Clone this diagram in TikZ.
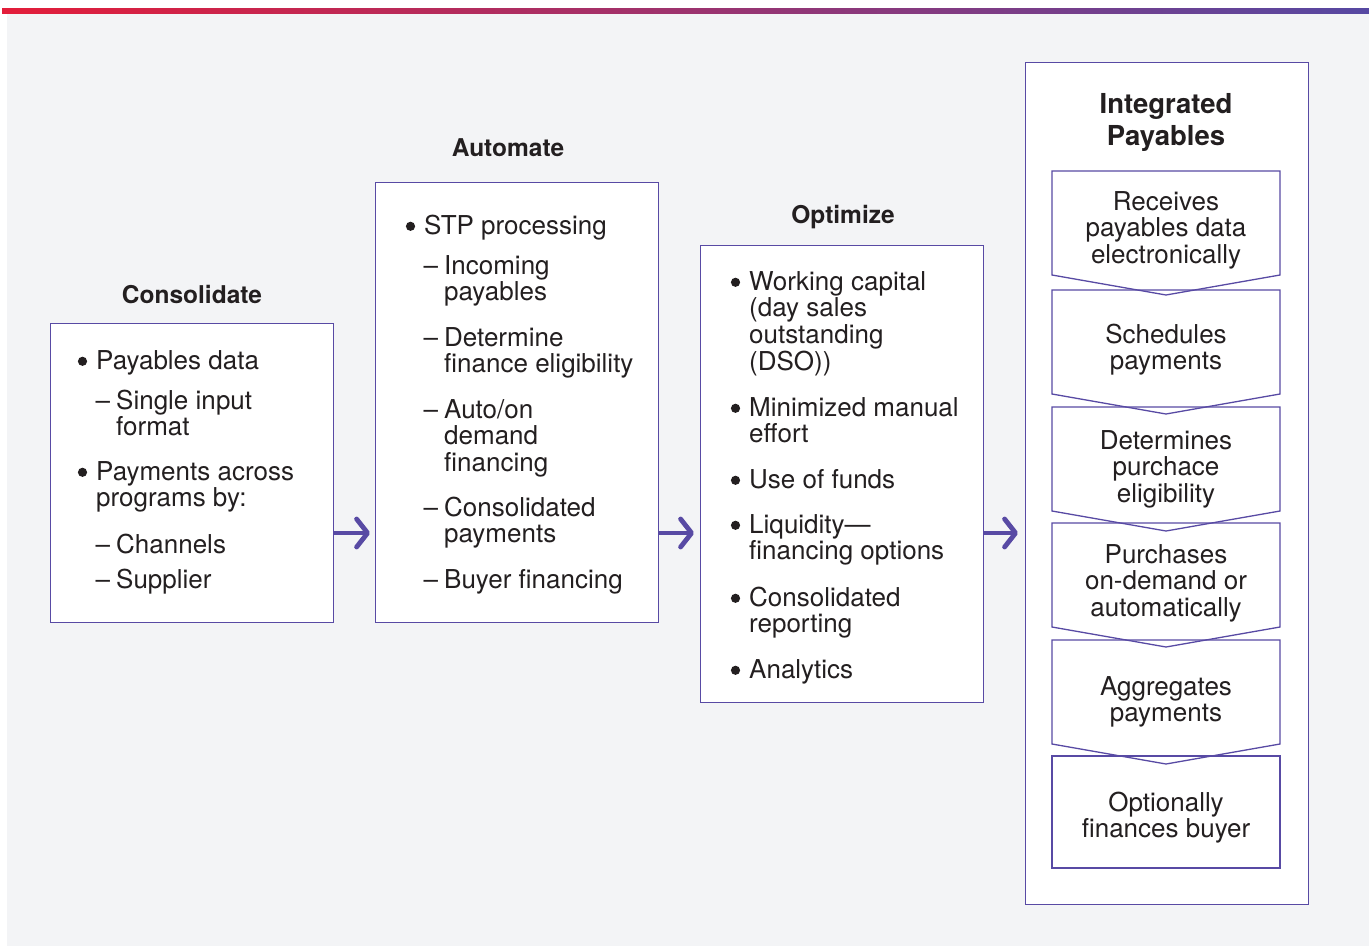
\documentclass[tikz,border=0pt]{standalone}
\usepackage{fontspec}
\setmainfont{TeX Gyre Heros}
\usetikzlibrary{arrows.meta}

\definecolor{barred}{RGB}{227,29,58}
\definecolor{barmag}{RGB}{176,32,98}
\definecolor{barpurple}{RGB}{86,72,162}
\definecolor{bggray}{RGB}{243,244,246}
\definecolor{frame}{RGB}{88,74,164}
\definecolor{ink}{RGB}{35,31,32}

\begin{document}
\begin{tikzpicture}[x=1pt,y=-1pt]

\tikzset{%
    panel/.style={draw=frame, line width=1.3pt, fill=white, inner sep=0pt, anchor=north west},
    stepline/.style={draw=frame, line width=1.3pt, line join=miter},
    body/.style={font=\fontsize{26}{26.7}\selectfont, text=ink, inner sep=0pt, align=left, anchor=base west},
    mid/.style={font=\fontsize{26}{26.7}\selectfont, text=ink, inner sep=0pt, align=center, anchor=base},
    heading/.style={font=\bfseries\fontsize{24.5}{32}\selectfont, text=ink, inner sep=0pt, align=center, anchor=base},
    flow/.style={draw=frame, line width=4.8pt, -{Straight Barb[length=11pt,width=28pt,round]}},
}

\def\lsk{26.7}

% \bitem{name}{x}{first baseline}{extra lines}{text}
\newcommand*{\bitem}[5]{%
    \node[body] (#1) at (#2,#3+#4*\lsk) {#5};
    \fill[ink] (#2-13.5,#3-7.7) circle (4.6);
}
% \ditem{name}{x}{first baseline}{extra lines}{text}
\newcommand*{\ditem}[5]{%
    \node[body] (#1) at (#2,#3+#4*\lsk) {\llap{--\hspace{6pt}}#5};
}

\def\arry{533}
\def\lx{1052}
\def\rx{1280}
\def\cx{1166}

\useasboundingbox (0,0) rectangle (1369,946);

% background
\fill[bggray] (7,13) rectangle (1369,946);
\shade[left color=barred, middle color=barmag, right color=barpurple] (2,8) rectangle (1369,13.5);

% consolidate
\node[heading] (consolT) at (192,303) {Consolidate};
\node[panel, minimum width=283pt, minimum height=299pt] (consol) at (50,323) {};
\bitem{c1}{96}{369}{0}{Payables data}
\ditem{c2}{116}{409}{1}{Single input\\format}
\bitem{c3}{96}{480}{1}{Payments across\\programs by:}
\ditem{c4}{116}{553}{0}{Channels}
\ditem{c5}{116}{588}{0}{Supplier}

% automate
\node[heading] (automT) at (508,156) {Automate};
\node[panel, minimum width=283pt, minimum height=440pt] (autom) at (375,182) {};
\bitem{a1}{424}{234}{0}{STP processing}
\ditem{a2}{444}{274}{1}{Incoming\\payables}
\ditem{a3}{444}{346}{1}{Determine\\finance eligibility}
\ditem{a4}{444}{418}{2}{Auto/on\\demand\\financing}
\ditem{a5}{444}{516}{1}{Consolidated\\payments}
\ditem{a6}{444}{588}{0}{Buyer financing}

% optimize
\node[heading] (optimT) at (843,223) {Optimize};
\node[panel, minimum width=283pt, minimum height=457pt] (optim) at (700,245) {};
\bitem{o1}{749}{290}{3}{Working capital\\(day sales\\outstanding\\(DSO))}
\bitem{o2}{749}{416}{1}{Minimized manual\\effort}
\bitem{o3}{749}{488}{0}{Use of funds}
\bitem{o4}{749}{533}{1}{Liquidity—\\financing options}
\bitem{o5}{749}{606}{1}{Consolidated\\reporting}
\bitem{o6}{749}{678}{0}{Analytics}

% integrated payables
\node[panel, minimum width=283pt, minimum height=842pt] (integ) at (1025,62) {};
\node[heading, font=\bfseries\fontsize{27.5}{32}\selectfont] (integT) at (\cx,145) {Integrated\\Payables};

\foreach \t in {171,290,407,523,640}
    \draw[stepline] (\lx,\t+104) -- (\lx,\t) -- (\rx,\t) -- (\rx,\t+104) -- (\cx,\t+124) -- cycle;
\draw[stepline] (\lx,756) rectangle (\rx,868);

\node[mid] (s1) at (\cx,210+2*\lsk) {Receives\\payables data\\electronically};
\node[mid] (s2) at (\cx,343+\lsk) {Schedules\\payments};
\node[mid] (s3) at (\cx,449+2*\lsk) {Determines\\purchace\\eligibility};
\node[mid] (s4) at (\cx,563+2*\lsk) {Purchases\\on-demand or\\automatically};
\node[mid] (s5) at (\cx,695+\lsk) {Aggregates\\payments};
\node[mid] (s6) at (\cx,811+\lsk) {Optionally\\finances buyer};

% arrows
\coordinate (t1) at (370,\arry);
\coordinate (t2) at (694,\arry);
\coordinate (t3) at (1018,\arry);
\draw[flow] (consol.east |- t1) -- (t1);
\draw[flow] (autom.east |- t2) -- (t2);
\draw[flow] (optim.east |- t3) -- (t3);

\end{tikzpicture}
\end{document}
